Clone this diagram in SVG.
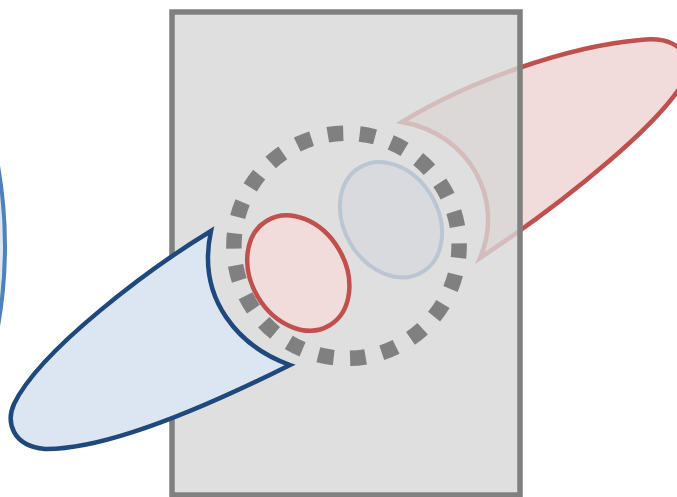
<svg xmlns="http://www.w3.org/2000/svg" width="677" height="497" viewBox="0 0 677 497">
<style>
.red{fill:#f2dcdb;stroke:#c0504d;stroke-width:4.5;stroke-linejoin:miter;stroke-miterlimit:10}
.blue{fill:#dce6f2;stroke:#1f497d;stroke-width:4.5;stroke-linejoin:miter;stroke-miterlimit:10}
.lblue{fill:#dce6f2;stroke:#4f81bd;stroke-width:4}
</style>
<rect width="677" height="497" fill="#ffffff"/>
<g id="left-arc"><circle class="lblue" cx="-455" cy="246" r="460"/></g>
<g id="red-lobe"><path class="red" d="M402,122 C470,80 570,46 640,40 C667,37 684,44 690,68 C675,115 560,205 480,258 C505,200 470,134 402,122 Z"/></g>
<g id="blue-ellipse"><ellipse class="lblue" cx="391" cy="219.7" rx="47" ry="61" transform="rotate(-31 391 219.7)"/></g>
<g id="box"><rect x="172" y="12" width="348" height="483" fill="#d7d7d7" fill-opacity="0.8" stroke="#808080" stroke-width="5.5"/></g>
<g id="dashed-ring"><circle cx="346.5" cy="245.8" r="112.6" fill="none" stroke="#808080" stroke-width="15.5" stroke-dasharray="15.5 16.66" stroke-dashoffset="3.3"/></g>
<g id="red-ellipse"><ellipse class="red" cx="298.3" cy="273" rx="47" ry="61" transform="rotate(-31 298.3 273)"/></g>
<g id="blue-lobe"><path class="blue" d="M211,231 C150,268 40,350 14,404 C6,422 12,446 45,449 C110,450 220,400 290,365 C240,347 196,300 211,231 Z"/></g>
<g id="connectors"></g>
</svg>
